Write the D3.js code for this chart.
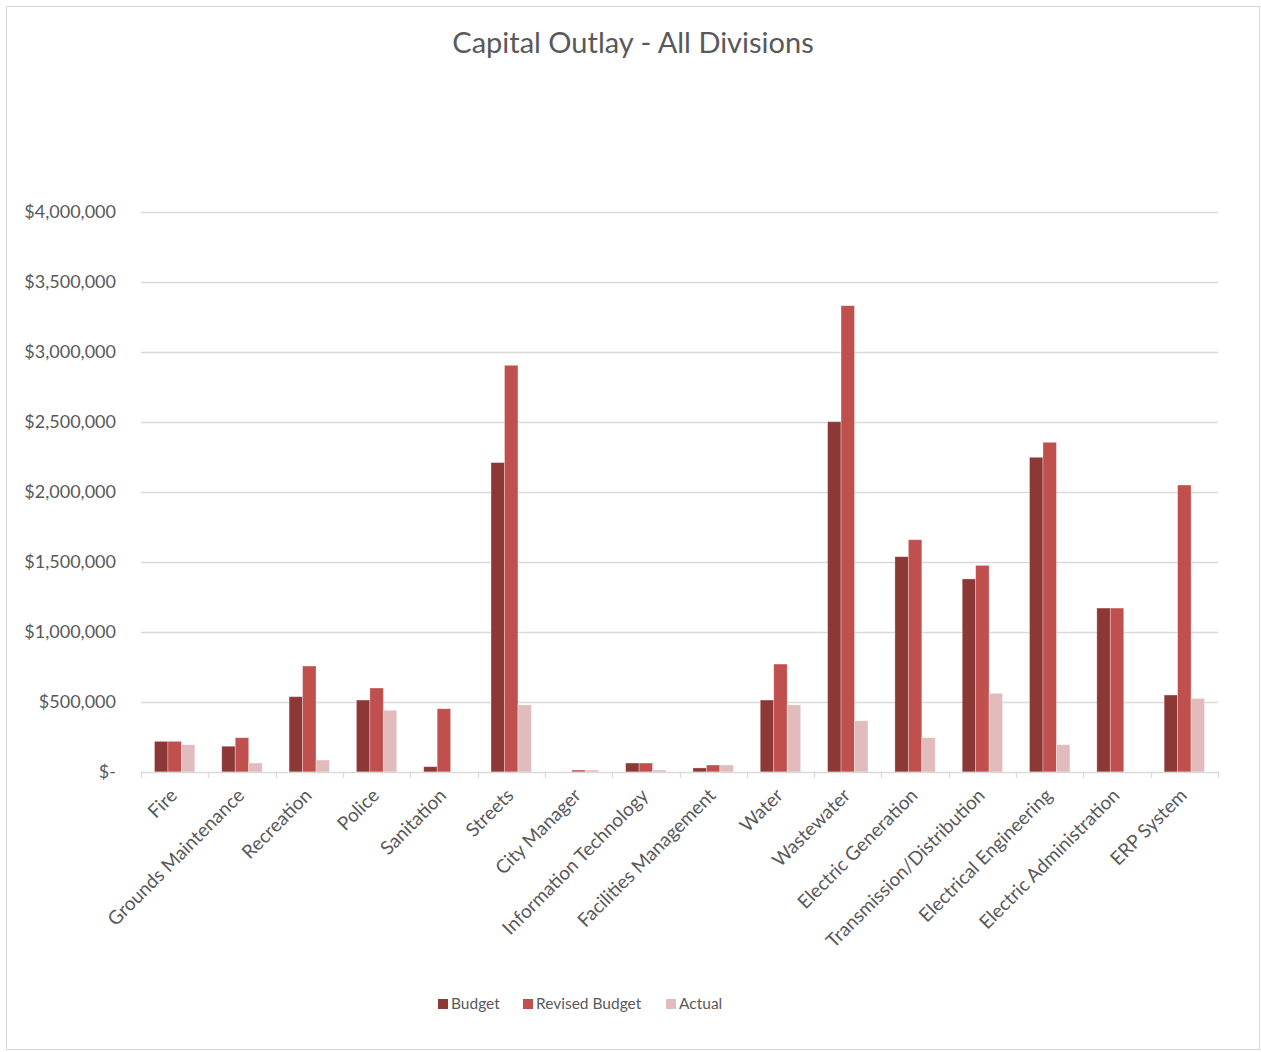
<!DOCTYPE html>
<html>
<head>
<meta charset="utf-8">
<script src="https://cdn.jsdelivr.net/npm/d3@7"></script>
<style>
  body { margin: 0; background: #fff; }
  text { font-family: "Lato", "Open Sans", sans-serif; fill: #595959; }
</style>
</head>
<body>
<script>
// categories (divisions) and the three series
var categories = ["Fire", "Grounds Maintenance", "Recreation", "Police", "Sanitation", "Streets",
  "City Manager", "Information Technology", "Facilities Management", "Water", "Wastewater",
  "Electric Generation", "Transmission/Distribution", "Electrical Engineering",
  "Electric Administration", "ERP System"];
var budget = [219000, 184000, 538000, 514000, 38000, 2210000, 0, 64000, 29000, 514000,
  2502000, 1538000, 1379000, 2248000, 1171000, 550000];
var revisedBudget = [219000, 245000, 757000, 600000, 452000, 2905000, 14000, 64000, 50000, 771000,
  3331000, 1659000, 1476000, 2355000, 1171000, 2050000];
var actual = [195000, 64000, 86000, 441000, 0, 479000, 14000, 14000, 50000, 479000,
  366000, 245000, 562000, 195000, 0, 526000];
var seriesNames = ["Budget", "Revised Budget", "Actual"];
var seriesColors = ["#8C3836", "#C0504D", "#E2BCBC"];
var yTicks = [0, 500000, 1000000, 1500000, 2000000, 2500000, 3000000, 3500000, 4000000];

var W = 1261, H = 1052;
var svg = d3.select("body").append("svg").attr("width", W).attr("height", H);

// outer frame
svg.append("rect").attr("x", 6.5).attr("y", 6.5).attr("width", 1253).attr("height", 1043)
  .attr("fill", "#fff").attr("stroke", "#d9d9d9");

// title
svg.append("text").attr("x", 633).attr("y", 53).attr("text-anchor", "middle")
  .style("font-size", "29px").text("Capital Outlay - All Divisions");

var x0 = d3.scaleBand().domain(categories).range([141, 1218]);
var x1 = d3.scaleBand().domain(seriesNames).range([0, x0.bandwidth()]).paddingOuter(1).paddingInner(0);
var y = d3.scaleLinear().domain([0, 4000000]).range([772, 212]);

// gridlines
svg.append("g").selectAll("line").data(yTicks.slice(1)).join("line")
  .attr("x1", 141).attr("x2", 1218)
  .attr("y1", function(d){ return Math.round(y(d)) + 0.5; })
  .attr("y2", function(d){ return Math.round(y(d)) + 0.5; })
  .attr("stroke", "#d9d9d9").attr("stroke-width", 1.3);

// y labels
var fmt = d3.format(",");
svg.append("g").selectAll("text").data(yTicks).join("text")
  .attr("x", 116).attr("y", function(d){ return y(d); }).attr("dy", "0.35em")
  .attr("text-anchor", "end").style("font-size", "18px")
  .text(function(d){ return d === 0 ? "$-" : "$" + fmt(d); });

// bars
var rows = categories.map(function(c, i){
  return { cat: c, vals: [budget[i], revisedBudget[i], actual[i]] };
});
var groups = svg.append("g").selectAll("g").data(rows).join("g")
  .attr("transform", function(d){ return "translate(" + x0(d.cat) + ",0)"; });
groups.selectAll("rect").data(function(d){
    return d.vals.map(function(v, k){ return { name: seriesNames[k], v: v, k: k }; });
  }).join("rect")
  .filter(function(d){ return d.v > 0; })
  .attr("x", function(d){ return x1(d.name); })
  .attr("width", x1.bandwidth())
  .attr("y", function(d){ return y(d.v); })
  .attr("height", function(d){ return y(0) - y(d.v); })
  .attr("fill", function(d){ return seriesColors[d.k]; })
  .attr("stroke", "#fff").attr("stroke-opacity", 0.4).attr("stroke-width", 0.8);

// x axis line and ticks
var axis = svg.append("g");
axis.append("line").attr("x1", 141).attr("x2", 1218).attr("y1", 772.5).attr("y2", 772.5)
  .attr("stroke", "#d9d9d9").attr("stroke-width", 1.3);
var tickPos = categories.map(function(c){ return x0(c); }).concat([1218]);
axis.selectAll("line.tk").data(tickPos).join("line").attr("class", "tk")
  .attr("x1", function(d){ return Math.round(d) + 0.5; })
  .attr("x2", function(d){ return Math.round(d) + 0.5; })
  .attr("y1", 772).attr("y2", 778).attr("stroke", "#d9d9d9").attr("stroke-width", 1.3);

// rotated category labels
axis.selectAll("text").data(categories).join("text")
  .attr("transform", function(c){
    return "translate(" + (x0(c) + x0.bandwidth() / 2 - 1) + ",792) rotate(-45)";
  })
  .attr("text-anchor", "end").attr("dy", "0.35em").style("font-size", "19px")
  .text(function(c){ return c; });

// legend
var legX = [438, 523, 666];
var leg = svg.append("g").selectAll("g").data(seriesNames).join("g")
  .attr("transform", function(d, i){ return "translate(" + legX[i] + ",999)"; });
leg.append("rect").attr("width", 10).attr("height", 10)
  .attr("fill", function(d, i){ return seriesColors[i]; });
leg.append("text").attr("x", 13).attr("y", 5).attr("dy", "0.35em")
  .style("font-size", "15.5px").text(function(d){ return d; });
</script>
</body>
</html>
